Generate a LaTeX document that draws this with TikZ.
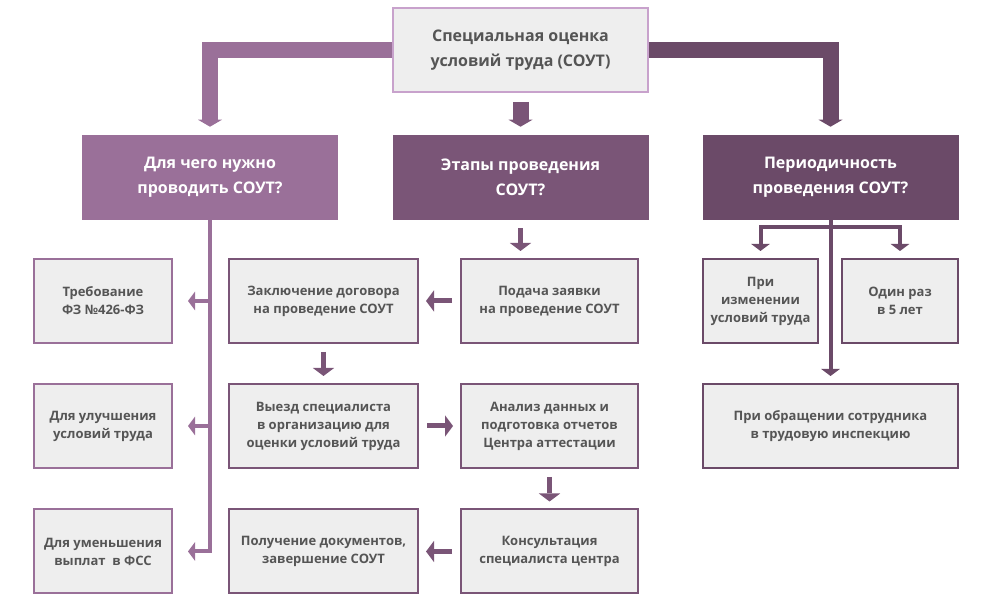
\documentclass[tikz,border=0pt]{standalone}
\usepackage{fontspec}
\setmainfont{Open Sans}
\usepackage{xcolor}
\usetikzlibrary{arrows.meta}

\definecolor{whyPurple}{RGB}{154,112,153}
\definecolor{stagePurple}{RGB}{122,85,119}
\definecolor{periodPurple}{RGB}{107,74,104}
\definecolor{topBorder}{RGB}{200,162,204}
\definecolor{boxGrey}{RGB}{238,238,238}
\definecolor{textGrey}{RGB}{85,85,85}

\begin{document}
\begin{tikzpicture}[x=0.75pt,y=0.75pt,yscale=-1,xscale=1,
    greybox/.style={draw=#1, line width=1.5pt, fill=boxGrey, text=textGrey, align=center, inner sep=0pt,
        minimum height=63pt, font=\bfseries\fontsize{9.75}{13.5}\selectfont},
    headbox/.style={fill=#1, draw=none, text=white, align=center, inner sep=0pt,
        minimum width=192pt, minimum height=63.75pt, font=\bfseries\fontsize{12}{19}\selectfont},
    bigArrow/.style={draw=#1, line width=12pt, shorten >=6pt, -{Triangle[width=18pt,length=5.25pt,line width=0pt]}},
    thinArrow/.style={draw=#1, line width=3pt, shorten >=11.25pt, -{Triangle[width=14pt,length=5.25pt,line width=0pt]}},
    midArrow/.style={draw=stagePurple, line width=3.75pt, shorten <=6pt, shorten >=5.25pt, -{Triangle[width=16pt,length=6pt,line width=0pt]}}]
    \useasboundingbox (0,0) rectangle (990,605);

    %Shape: Rectangle
    \node [greybox=topBorder, minimum width=191.25pt, font=\bfseries\fontsize{12}{19}\selectfont] (sout) at (520.5,50) {Специальная оценка\\условий труда (СОУТ)};
    %Shape: Rectangle
    \node [headbox=whyPurple] (why) at (210,177.5) {Для чего нужно\\проводить СОУТ?};
    \node [headbox=stagePurple] (stages) at (520.5,177.5) {Этапы проведения\\СОУТ?};
    \node [headbox=periodPurple] (period) at (830.5,177.5) {Периодичность\\проведения СОУТ?};

    %Shape: Rectangle
    \node [greybox=whyPurple, minimum width=103.5pt] (treb) at (103,301) {Требование\\ФЗ №426-ФЗ};
    \node [greybox=whyPurple, minimum width=103.5pt] (uluch) at (103,426) {Для улучшения\\условий труда};
    \node [greybox=whyPurple, minimum width=103.5pt] (umensh) at (103,551.5) {Для уменьшения\\выплат \ в ФСС};
    %Shape: Rectangle
    \node [greybox=stagePurple, minimum width=141.75pt] (zakl) at (323.5,301) {Заключение договора\\на проведение СОУТ};
    \node [greybox=stagePurple, minimum width=141.75pt] (vyezd) at (323.5,426) {Выезд специалиста\\в организацию для\\оценки условий труда};
    \node [greybox=stagePurple, minimum width=141.75pt] (poluch) at (323.5,551.5) {Получение документов,\\завершение СОУТ};
    \node [greybox=stagePurple, minimum width=132.75pt] (podacha) at (549.5,301) {Подача заявки\\на проведение СОУТ};
    \node [greybox=stagePurple, minimum width=132.75pt] (analiz) at (549.5,426) {Анализ данных и\\подготовка отчетов\\Центра аттестации};
    \node [greybox=stagePurple, minimum width=132.75pt] (konsult) at (549.5,551.5) {Консультация\\специалиста центра};
    %Shape: Rectangle
    \node [greybox=periodPurple, minimum width=86.25pt] (izmen) at (760.5,301) {При\\изменении\\условий труда};
    \node [greybox=periodPurple, minimum width=87pt] (raz) at (900,301) {Один раз\\в 5 лет};
    \node [greybox=periodPurple, minimum width=191.25pt] (obrash) at (830.5,426) {При обращении сотрудника\\в трудовую инспекцию};

    %Straight Lines
    \draw [bigArrow=whyPurple] (sout.west) -| (why.north);
    \draw [bigArrow=stagePurple, shorten <=6.75pt] (sout.south) -- (stages.north);
    \draw [bigArrow=periodPurple] (sout.east) -| (period.north);

    %Straight Lines
    \draw [thinArrow=whyPurple] (why.south) |- (umensh.east);
    \draw [thinArrow=whyPurple] (why.south |- treb.east) -- (treb.east);
    \draw [thinArrow=whyPurple] (why.south |- uluch.east) -- (uluch.east);

    %Straight Lines
    \draw [midArrow] (stages.south) -- (stages.south |- podacha.north);
    \draw [midArrow] (podacha.west) -- (zakl.east);
    \draw [midArrow] (zakl.south) -- (vyezd.north);
    \draw [midArrow] (vyezd.east) -- (analiz.west);
    \draw [midArrow] (analiz.south) -- (konsult.north);
    \draw [midArrow] (konsult.west) -- (poluch.east);

    %Straight Lines
    \draw [thinArrow=periodPurple, shorten >=5.25pt] (period.south) -- (obrash.north);
    \draw [thinArrow=periodPurple, {Triangle[width=14pt,length=5.25pt,line width=0pt]}-{Triangle[width=14pt,length=5.25pt,line width=0pt]}, shorten <=5.25pt, shorten >=5.25pt] (izmen.north) -- ++(0,-31) -| (raz.north);

\end{tikzpicture}
\end{document}
